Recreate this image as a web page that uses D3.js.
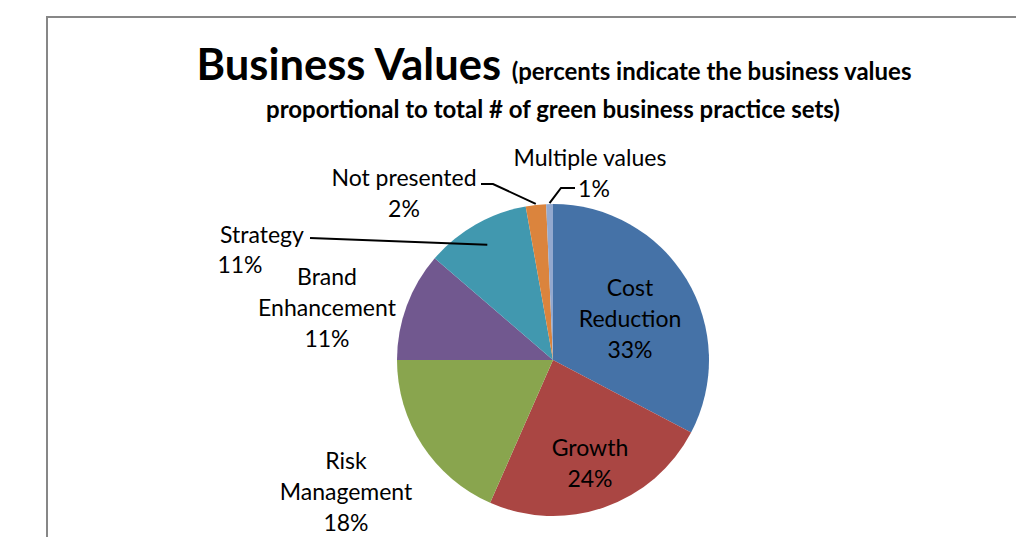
<!DOCTYPE html>
<html><head><meta charset="utf-8">
<script src="https://cdn.jsdelivr.net/npm/d3@7"></script>
<style>body{margin:0;background:#fff;}svg{display:block;}</style>
</head><body>
<svg id="c" width="1016" height="537"></svg>
<script>
const categories = ["Cost Reduction","Growth","Risk Management","Brand Enhancement","Strategy","Not presented","Multiple values"];
const values = [32.7, 23.9, 18.4, 11.3, 10.9, 2.1, 0.7];
const colors = ["#4572A7","#AA4643","#89A54E","#71588F","#4198AF","#DB843D","#93A9CF"];
const labelLines = [["Cost","Reduction"],["Growth"],["Risk","Management"],["Brand","Enhancement"],["Strategy"],["Not presented"],["Multiple values"]];

const svg = d3.select("#c");
const font = "Lato, 'Open Sans', sans-serif";
svg.append("rect").attr("x",47).attr("y",17).attr("width",1100).attr("height",600)
  .attr("fill","#fff").attr("stroke","#878787").attr("stroke-width",2);

const title = svg.append("text").attr("x",554).attr("y",80).attr("text-anchor","middle").attr("font-family",font).attr("font-weight","bold");
title.append("tspan").attr("font-size",43.5).text("Business Values ");
title.append("tspan").attr("font-size",24).text("(percents indicate the business values");
svg.append("text").attr("x",553).attr("y",118).attr("text-anchor","middle").attr("font-family",font).attr("font-weight","bold").attr("font-size",24)
  .text("proportional to total # of green business practice sets)");

const cx = 553, cy = 360, r = 156;
const pie = d3.pie().sort(null).value(d=>d);
const arcs = pie(values);
const arc = d3.arc().innerRadius(0).outerRadius(r);
const g = svg.append("g").attr("transform",`translate(${cx},${cy})`);
g.selectAll("path").data(arcs).join("path").attr("d",arc).attr("fill",(d,i)=>colors[i]);

// label positions (absolute)
const labelPos = [[630,287],[590,447],[346,460],[327,276],[262,234],[404,177],[590,157]];
const lh = 31;
labelPos.forEach((p,i)=>{
  const lines = labelLines[i].concat([Math.round(values[i])+"%"]);
  const t = svg.append("text").attr("font-family",font).attr("font-size",23).attr("fill","#000").attr("text-anchor","middle").attr("dominant-baseline","central");
  if(i===4){
    t.append("tspan").attr("x",p[0]).attr("y",p[1]).text(lines[0]);
    t.append("tspan").attr("x",240).attr("y",264).text(lines[1]);
  } else if(i===6){
    t.append("tspan").attr("x",p[0]).attr("y",p[1]).text(lines[0]);
    t.append("tspan").attr("x",594).attr("y",188).text(lines[1]);
  } else {
    lines.forEach((s,k)=>t.append("tspan").attr("x",p[0]).attr("y",p[1]+k*lh).text(s));
  }
});

// leader lines
const pt = (a,rr)=>[cx+rr*Math.sin(a), cy-rr*Math.cos(a)];
const mid = d=>(d.startAngle+d.endAngle)/2;
const leaders = [
  [[310,238], pt(mid(arcs[4]), r*0.85)],
  [[481,184],[493,184], pt(mid(arcs[5]), r+1)],
  [[575,188],[561,188], pt(mid(arcs[6]), r+1)]
];
leaders.forEach(L=>{
  svg.append("polyline").attr("points",L.map(q=>q.join(",")).join(" "))
    .attr("fill","none").attr("stroke","#000").attr("stroke-width",2);
});
</script>
</body></html>
